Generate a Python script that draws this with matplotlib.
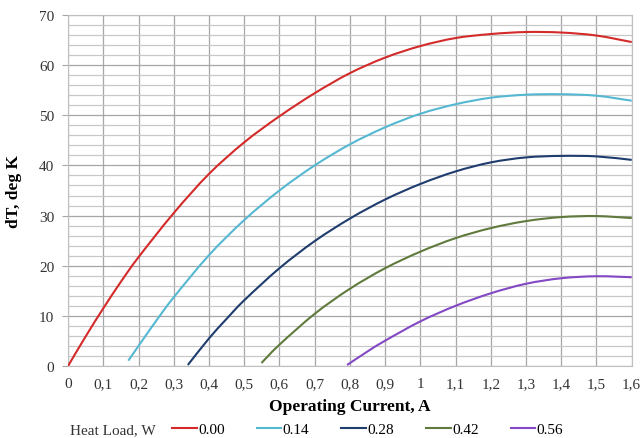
import matplotlib.pyplot as plt
from matplotlib.path import Path
from matplotlib.patches import PathPatch
from matplotlib.lines import Line2D
from matplotlib.ticker import MultipleLocator

plt.rcParams['font.family'] = ['Liberation Serif', 'DejaVu Serif']

# Heat load curves: operating current (A) vs dT (K)
i_000 = [0, 0.05, 0.1, 0.15, 0.2, 0.3, 0.4, 0.5, 0.6, 0.7, 0.8, 0.9, 1.0, 1.1, 1.2, 1.3, 1.4, 1.5, 1.6]
dt_000 = [0, 5.9, 11.5, 16.8, 21.7, 30.5, 38.3, 44.6, 49.8, 54.4, 58.4, 61.5, 63.8, 65.4, 66.2, 66.6, 66.5, 65.9, 64.6]

i_014 = [0.171, 0.2, 0.25, 0.3, 0.4, 0.5, 0.6, 0.7, 0.8, 0.9, 1.0, 1.1, 1.2, 1.3, 1.4, 1.5, 1.6]
dt_014 = [1.06, 4.0, 9.0, 13.7, 22.1, 29.1, 35.0, 40.0, 44.2, 47.6, 50.3, 52.2, 53.5, 54.1, 54.2, 53.9, 52.9]

i_028 = [0.34, 0.4, 0.45, 0.5, 0.6, 0.7, 0.8, 0.9, 1.0, 1.1, 1.2, 1.3, 1.4, 1.5, 1.6]
dt_028 = [0.2, 5.5, 9.4, 13.1, 19.5, 24.9, 29.4, 33.2, 36.3, 38.8, 40.6, 41.6, 41.9, 41.8, 41.1]

i_042 = [0.549, 0.6, 0.7, 0.8, 0.9, 1.0, 1.1, 1.2, 1.3, 1.4, 1.5, 1.6]
dt_042 = [0.6, 4.25, 10.4, 15.4, 19.5, 22.8, 25.5, 27.5, 28.9, 29.7, 29.9, 29.5]

i_056 = [0.792, 0.85, 0.9, 1.0, 1.1, 1.2, 1.3, 1.4, 1.5, 1.6]
dt_056 = [0.2, 2.9, 5.05, 8.9, 12.0, 14.5, 16.4, 17.5, 17.9, 17.7]

labels = ['0.00', '0.14', '0.28', '0.42', '0.56']
colors = ['#D42A2A', '#55B8D2', '#1F3C6E', '#5F7A3C', '#8348C4']
xticks = [0, 0.1, 0.2, 0.3, 0.4, 0.5, 0.6, 0.7, 0.8, 0.9, 1.0, 1.1, 1.2, 1.3, 1.4, 1.5, 1.6]
xtick_labels = ['0', '0,1', '0,2', '0,3', '0,4', '0,5', '0,6', '0,7', '0,8', '0,9',
                '1', '1,1', '1,2', '1,3', '1,4', '1,5', '1,6']


def smooth_path(xs, ys):
    # Excel-style smoothed line: bezier segments through the data points
    verts = [(xs[0], ys[0])]
    codes = [Path.MOVETO]
    n = len(xs)
    for k in range(n - 1):
        x0, y0 = (xs[k - 1], ys[k - 1]) if k > 0 else (xs[k], ys[k])
        x1, y1 = xs[k], ys[k]
        x2, y2 = xs[k + 1], ys[k + 1]
        x3, y3 = (xs[k + 2], ys[k + 2]) if k + 2 < n else (x2, y2)
        c1 = (x1 + (x2 - x0) / 6, y1 + (y2 - y0) / 6)
        c2 = (x2 - (x3 - x1) / 6, y2 - (y3 - y1) / 6)
        verts += [c1, c2, (x2, y2)]
        codes += [Path.CURVE4] * 3
    return Path(verts, codes)


fig = plt.figure(figsize=(6.42, 4.39), dpi=100)
ax = fig.add_axes([0.106, 0.164, 0.878, 0.7996])

series = [(i_000, dt_000), (i_014, dt_014), (i_028, dt_028), (i_042, dt_042), (i_056, dt_056)]
handles = []
for (xs, ys), lab, c in zip(series, labels, colors):
    ax.add_patch(PathPatch(smooth_path(xs, ys), facecolor='none', edgecolor=c, lw=1.5,
                           capstyle='butt', zorder=3))
    handles.append(Line2D([], [], color=c, lw=1.5, label=lab))

ax.set_xlim(0, 1.6)
ax.set_ylim(0, 70)
ax.set_xticks(xticks)
ax.set_xticklabels(xtick_labels)
ax.yaxis.set_major_locator(MultipleLocator(10))
ax.yaxis.set_minor_locator(MultipleLocator(2))
ax.grid(True, which='major', color='#a6a6a6', lw=0.9)
ax.grid(True, which='minor', axis='y', color='#c8c8c8', lw=0.9)
ax.set_axisbelow(True)
for s in ax.spines.values():
    s.set_color('#bfbfbf')
ax.tick_params(axis='both', which='both', length=0, labelsize=11, colors='#333333')
ax.tick_params(axis='x', pad=8)
ax.tick_params(axis='y', which='major', length=4, color='#a6a6a6', pad=6)

ax.set_xlabel('Operating Current, A', fontsize=12.5, fontweight='bold', labelpad=6)
ax.set_ylabel('dT, deg K', fontsize=12.5, fontweight='bold', labelpad=12)

fig.text(0.109, 0.02, 'Heat Load, W', fontsize=11, va='center', ha='left', color='#333333')
fig.legend(handles=handles, labels=labels, loc='center left', bbox_to_anchor=(0.268, 0.02),
           ncol=5, frameon=False, fontsize=11, handlelength=1.6, handletextpad=0.1,
           columnspacing=2.1, borderaxespad=0, borderpad=0)

fig.savefig('out.png', dpi=100)
